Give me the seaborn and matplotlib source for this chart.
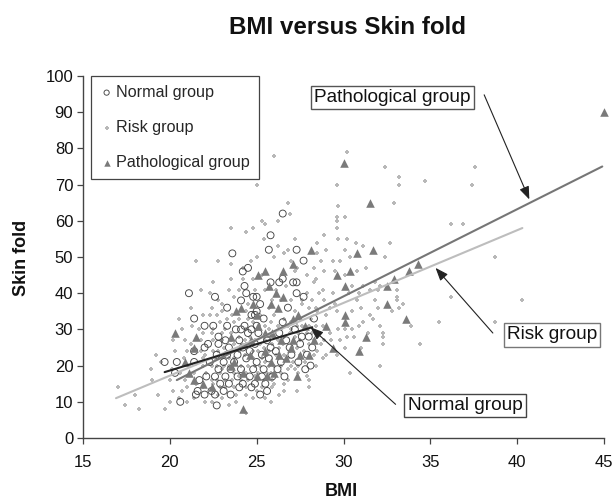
import pandas as pd
import matplotlib
matplotlib.use("Agg")
import matplotlib.pyplot as plt
import seaborn as sns

# values as (BMI, skin fold)
normal_group = [
    (26.5, 62), (25.8, 56), (23.6, 51), (25.7, 52), (27.3, 52), (27.7, 49), (24.5, 47), (24.2, 46),
    (26.5, 44), (25.8, 43), (26.3, 43), (27.1, 43), (27.3, 43), (24.3, 42), (21.1, 40), (22.6, 39),
    (24.4, 40), (27.3, 40), (27.7, 39), (24.1, 38), (24.8, 39), (25.0, 39), (25.2, 37), (23.3, 36),
    (26.8, 36), (25.0, 35), (24.7, 34), (24.9, 34), (21.4, 33), (25.4, 33), (28.3, 33), (22.0, 31),
    (22.5, 31), (23.3, 31), (24.3, 31), (26.5, 32), (25.0, 31), (27.2, 30), (23.8, 30), (24.1, 30),
    (24.7, 30), (22.8, 28), (25.1, 29), (24.5, 29), (26.3, 29), (27.6, 28), (28.0, 28), (23.2, 27),
    (22.2, 26), (22.8, 26), (24.0, 27), (25.6, 27), (26.7, 27), (27.5, 26), (21.4, 24), (22.0, 25),
    (23.4, 25), (24.2, 25), (24.9, 26), (25.8, 25), (26.9, 25), (28.2, 25), (22.7, 23), (23.3, 23),
    (23.9, 23), (24.6, 24), (25.3, 23), (26.1, 24), (27.0, 23), (27.9, 23), (19.7, 21), (20.4, 21),
    (21.4, 21), (22.3, 21), (23.1, 21), (23.7, 21), (24.4, 22), (25.0, 21), (25.7, 22), (26.4, 21),
    (27.4, 21), (20.3, 18), (22.8, 19), (23.5, 19), (24.1, 19), (24.8, 19), (25.4, 19), (26.2, 19),
    (28.1, 20), (27.8, 19), (22.1, 17), (22.6, 17), (23.2, 17), (23.9, 17), (24.6, 17), (25.3, 17),
    (25.9, 17), (26.6, 17), (21.7, 16), (22.9, 15), (23.4, 15), (24.2, 15), (24.9, 15), (25.5, 15),
    (21.6, 13), (22.4, 13), (23.1, 13), (24.0, 14), (24.7, 14), (25.6, 13), (21.5, 12), (22.0, 12),
    (22.6, 12), (23.5, 12), (25.2, 12), (20.6, 10), (22.7, 9),
]

risk_group = [
    (30.2, 79), (32.4, 75), (37.6, 75), (33.2, 72), (33.2, 70), (34.7, 71), (37.4, 70), (29.6, 70),
    (32.9, 65), (29.7, 64), (29.6, 61), (30.1, 61), (29.6, 60), (29.6, 58), (36.2, 59), (36.9, 59),
    (29.7, 55), (30.2, 55), (32.7, 54), (30.7, 54), (31.1, 53), (30.1, 52), (32.4, 50), (38.7, 50),
    (30.4, 50), (29.8, 49), (29.4, 49), (31.3, 47), (30.8, 46), (29.5, 46), (30.1, 45), (31.8, 43),
    (32.1, 42), (31.1, 42), (30.5, 42), (31.5, 41), (32.0, 41), (30.9, 40), (30.3, 40), (29.4, 40),
    (36.2, 39), (40.3, 38), (33.1, 41), (33.1, 39), (33.1, 38), (33.4, 37), (33.2, 36), (32.8, 35),
    (31.8, 38), (30.8, 38), (32.0, 36), (31.0, 36), (30.5, 35), (31.5, 34), (29.5, 37), (29.2, 36),
    (29.6, 35), (28.9, 38), (29.0, 34), (33.9, 31), (35.5, 32), (38.7, 32), (31.7, 33), (31.1, 32),
    (30.9, 31), (32.1, 31), (32.3, 29), (30.5, 30), (30.1, 30), (29.7, 30), (31.4, 29), (29.2, 29),
    (30.6, 28), (30.2, 28), (32.3, 26), (32.3, 28), (29.8, 27), (29.3, 27), (34.4, 26), (30.1, 25),
    (31.0, 25), (32.1, 20), (30.4, 18), (29.6, 23), (29.0, 23), (28.4, 36), (28.8, 41), (28.4, 44),
    (28.3, 47), (28.7, 49), (28.9, 46), (28.3, 43), (27.9, 40), (28.6, 40), (28.2, 38), (27.6, 37),
    (28.0, 36), (28.5, 35), (27.2, 46), (27.0, 49), (26.6, 51), (26.2, 53), (26.0, 50), (25.4, 55),
    (26.2, 60), (26.9, 62), (26.8, 65), (26.0, 78), (25.0, 70), (25.3, 60), (25.5, 59), (23.5, 58),
    (24.8, 58), (24.4, 57), (21.5, 49), (24.2, 47), (23.5, 48), (22.8, 49), (24.7, 49), (25.0, 50),
    (26.8, 52), (27.2, 55), (28.5, 54), (28.9, 56), (29.0, 52), (28.5, 51), (27.9, 45), (27.3, 47),
    (23.5, 44), (24.2, 44), (24.8, 44), (25.3, 45), (22.5, 43), (22.3, 40), (21.8, 41), (23.4, 41),
    (24.0, 41), (24.9, 41), (25.5, 41), (26.1, 41), (26.7, 42), (22.8, 38), (23.7, 39), (25.9, 38),
    (26.4, 38), (27.0, 38), (21.2, 36), (22.4, 36), (23.0, 37), (24.5, 37), (25.7, 36), (27.2, 35),
    (20.5, 33), (21.9, 34), (22.3, 34), (22.7, 34), (23.6, 34), (24.4, 35), (26.0, 34), (26.6, 33),
    (27.5, 33), (28.1, 33), (21.3, 31), (22.9, 32), (23.7, 32), (24.8, 32), (25.8, 32), (27.0, 32),
    (27.6, 31), (28.4, 31), (28.8, 31), (20.7, 30), (21.7, 30), (22.4, 29), (23.0, 29), (23.5, 29),
    (24.0, 28), (24.6, 28), (25.4, 28), (26.0, 28), (26.6, 28), (27.2, 28), (27.9, 29), (28.6, 29),
    (20.2, 27), (20.9, 27), (21.8, 27), (22.5, 27), (23.1, 25), (23.7, 26), (24.4, 26), (25.2, 26),
    (25.9, 26), (26.5, 26), (27.3, 25), (28.0, 26), (28.7, 26), (19.2, 23), (20.3, 24), (21.0, 24),
    (21.8, 24), (22.5, 24), (23.6, 24), (24.3, 23), (25.1, 24), (25.7, 24), (26.6, 23), (27.5, 23),
    (28.3, 23), (28.8, 22), (19.5, 21), (20.8, 22), (21.9, 22), (22.6, 22), (23.4, 22), (24.8, 22),
    (25.5, 21), (26.2, 22), (27.1, 21), (27.8, 21), (28.4, 20), (18.9, 19), (20.1, 19), (21.1, 20),
    (21.9, 20), (22.7, 20), (23.4, 20), (24.5, 20), (25.2, 20), (26.0, 20), (26.8, 19), (27.4, 18),
    (19.0, 16), (20.6, 18), (21.4, 18), (22.1, 18), (22.9, 18), (23.7, 18), (24.4, 18), (25.1, 18),
    (25.8, 18), (26.6, 15), (28.0, 16), (17.0, 14), (18.0, 12), (19.3, 12), (20.0, 16), (20.9, 16),
    (21.5, 15), (22.4, 16), (23.2, 16), (24.5, 16), (25.0, 16), (26.0, 15), (28.0, 14), (17.4, 9),
    (18.2, 8), (19.7, 8), (20.2, 13), (20.7, 13), (21.0, 14), (21.9, 14), (22.9, 14), (23.7, 14),
    (25.0, 13), (26.3, 12), (20.0, 10), (20.5, 11), (21.0, 10), (21.4, 11), (22.0, 10), (22.4, 10),
    (23.0, 11), (23.8, 10), (24.4, 12), (24.8, 11), (25.8, 10), (23.4, 9), (24.4, 7),
    (23.0, 35), (23.3, 33), (24.0, 33), (24.5, 33), (25.2, 34), (25.5, 31), (26.2, 31), (26.8, 31),
    (27.3, 31), (28.0, 31), (27.0, 30), (26.4, 30), (25.7, 30), (25.0, 30), (24.4, 30), (23.2, 30),
    (22.5, 30), (21.9, 29), (27.4, 29), (28.2, 29), (26.9, 29), (26.2, 27), (25.5, 27), (24.9, 27),
    (24.3, 27), (23.5, 27), (23.0, 27), (27.5, 27), (28.3, 27), (28.9, 27), (21.2, 26), (22.0, 23),
    (22.8, 24), (23.0, 23), (24.0, 24), (24.8, 24), (25.4, 25), (26.3, 25), (26.9, 24), (27.7, 24),
    (28.5, 24), (26.1, 23), (25.6, 23), (24.7, 23), (23.7, 22), (23.0, 22), (25.3, 22), (26.8, 22),
    (27.4, 20), (27.0, 20), (26.4, 20), (25.7, 20), (24.9, 20), (24.1, 20), (23.1, 20), (22.4, 20),
    (23.0, 19), (24.0, 17), (24.9, 17), (25.6, 18), (26.4, 18), (27.2, 19), (27.9, 17), (22.7, 16),
    (23.6, 16), (24.1, 16), (25.4, 16), (25.9, 16), (26.8, 16), (22.5, 15), (23.2, 14), (24.4, 14),
    (25.3, 14), (25.9, 14), (26.6, 13), (22.8, 12), (23.8, 12), (25.5, 11), (27.3, 13), (27.6, 38),
]

pathological_group = [
    (30.0, 76), (31.5, 65), (45.0, 90), (30.8, 51), (31.7, 52), (30.4, 46), (29.6, 45), (30.1, 42),
    (34.3, 48), (33.8, 46), (32.9, 44), (32.5, 42), (32.5, 37), (33.6, 33), (30.1, 34), (30.1, 32),
    (31.3, 28), (30.9, 24), (20.3, 29), (21.5, 28), (21.4, 25), (20.9, 21), (21.1, 18), (21.4, 16),
    (21.9, 15), (22.4, 14), (24.2, 8), (28.1, 52), (27.1, 48), (25.5, 46), (25.1, 45), (26.5, 46),
    (25.7, 42), (26.1, 40), (26.5, 39), (24.8, 37), (25.8, 37), (26.2, 36), (24.1, 36), (23.8, 35),
    (25.0, 34), (27.1, 33), (27.4, 34), (25.1, 31), (27.8, 31), (29.0, 31), (28.3, 27), (29.4, 25),
    (23.5, 28), (25.5, 29), (25.9, 29), (27.1, 27), (28.0, 23), (27.3, 17), (26.0, 18), (24.6, 23),
    (25.5, 24), (26.3, 23), (26.7, 22), (27.5, 23), (23.7, 21), (24.2, 18), (25.0, 17), (25.8, 21),
    (25.6, 17), (23.5, 20), (27.0, 25), (26.4, 27), (24.7, 27),
]

# regression lines, both ends
normal_line_bmi = [19.7, 28.2]
normal_line_sf = [18.2, 30.6]
risk_line_bmi = [16.9, 40.3]
risk_line_sf = [11, 58]
pathological_line_bmi = [20.4, 44.9]
pathological_line_sf = [16, 75]

x_ticks = [15, 20, 25, 30, 35, 40, 45]
y_ticks = [0, 10, 20, 30, 40, 50, 60, 70, 80, 90, 100]

sns.set_theme(style="white")
plt.rcParams["font.family"] = ["Liberation Sans", "DejaVu Sans"]

normal_df = pd.DataFrame(normal_group, columns=["BMI", "Skin fold"])
risk_df = pd.DataFrame(risk_group, columns=["BMI", "Skin fold"])
path_df = pd.DataFrame(pathological_group, columns=["BMI", "Skin fold"])

fig = plt.figure(figsize=(6.13, 5.04), dpi=100)
ax = fig.add_axes([83 / 613, 1 - 438 / 504, 521 / 613, 362 / 504])

# ---- points
sns.scatterplot(data=risk_df, x="BMI", y="Skin fold", ax=ax, marker="P", s=11, color="#b8b8b8",
                linewidth=0, label="Risk group", zorder=2, clip_on=False)
sns.scatterplot(data=normal_df, x="BMI", y="Skin fold", ax=ax, marker="o", s=25, facecolor="none",
                edgecolor="#444444", linewidth=0.65, label="Normal group", zorder=3)
sns.scatterplot(data=path_df, x="BMI", y="Skin fold", ax=ax, marker="^", s=38, color="#7a7a7a",
                linewidth=0, label="Pathological group", zorder=4, clip_on=False)

# ---- regression lines
sns.lineplot(x=risk_line_bmi, y=risk_line_sf, ax=ax, color="#bdbdbd", linewidth=1.5, zorder=5)
sns.lineplot(x=pathological_line_bmi, y=pathological_line_sf, ax=ax, color="#767676", linewidth=1.5, zorder=5)
sns.lineplot(x=normal_line_bmi, y=normal_line_sf, ax=ax, color="#222222", linewidth=1.5, zorder=6)

ax.set_xlim(15, 45)
ax.set_ylim(0, 100)
ax.set_xticks(x_ticks)
ax.set_yticks(y_ticks)
ax.set_xlabel("")
ax.set_ylabel("")
ax.tick_params(axis="both", labelsize=12, length=4, width=0.9, color="#444444",
               labelcolor="#111111", left=True, bottom=True, pad=3)
ax.tick_params(axis="x", pad=8)
sns.despine(ax=ax)
for side in ["left", "bottom"]:
    ax.spines[side].set_color("#444444")
    ax.spines[side].set_linewidth(1.0)

# ---- legend
handles, labels = ax.get_legend_handles_labels()
order = [labels.index("Normal group"), labels.index("Risk group"), labels.index("Pathological group")]
leg = ax.legend([handles[i] for i in order], [labels[i] for i in order],
                loc="upper left", bbox_to_anchor=(7.5 / 521, 1.0), borderaxespad=0, fontsize=11.6,
                frameon=True, fancybox=False, framealpha=1, edgecolor="#444444", markerscale=0.75,
                labelspacing=1.25, handletextpad=0.15, borderpad=0.55, handlelength=0.9)
leg.get_frame().set_linewidth(0.9)
leg.set_zorder(10)

# ---- labels with arrows
def callout(text, xy, arrow_from, text_xy, edge):
    ax.annotate("", xy=xy, xytext=arrow_from, zorder=8,
                arrowprops=dict(arrowstyle="-|>,head_length=0.65,head_width=0.25", color="#222222",
                                linewidth=0.8, shrinkA=0, shrinkB=0))
    ax.text(text_xy[0], text_xy[1], text, fontsize=13.7, ha="center", va="center", color="#111111", zorder=9,
            bbox=dict(boxstyle="square,pad=0.17", facecolor="white", edgecolor=edge, linewidth=1.0))

callout("Pathological group", (40.7, 65.9), (38.1, 94.8), (32.8, 94.0), "#555555")
callout("Risk group", (35.3, 47.0), (38.6, 29.0), (42.0, 28.5), "#777777")
callout("Normal group", (28.1, 30.6), (33.0, 9.3), (37.0, 9.0), "#444444")

fig.text(347.5 / 613, 1 - 27 / 504, "BMI versus Skin fold", fontsize=17.4, fontweight="bold", ha="center", va="center", color="#111111")
fig.text(341 / 613, 1 - 491 / 504, "BMI", fontsize=13, fontweight="bold", ha="center", va="center", color="#111111")
fig.text(22 / 613, 1 - 258 / 504, "Skin fold", fontsize=13, fontweight="bold", rotation=90, ha="center", va="center", color="#111111")

fig.savefig("out.png", dpi=100)
